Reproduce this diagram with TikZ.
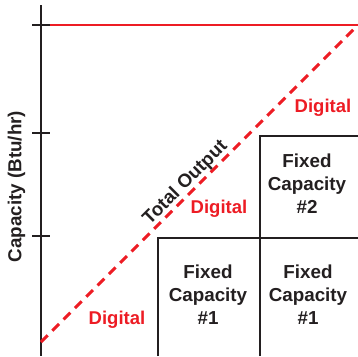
\documentclass[tikz,border=0pt]{standalone}
\usepackage{fontspec}
\setmainfont{Liberation Sans}
\definecolor{dred}{RGB}{237,28,36}
\definecolor{dblack}{HTML}{231F20}
\begin{document}
\begin{tikzpicture}[x=1pt,y=-1pt,
  axisline/.style={draw=dblack,line width=1.2pt},
  boxline/.style={draw=dblack,line width=1.3pt},
  lbl/.style={font=\fontsize{18.8}{23}\selectfont\bfseries,text=dblack,align=center,inner sep=0pt},
  dlbl/.style={font=\fontsize{18.5}{23}\selectfont\bfseries,text=dred,inner sep=0pt},
  totline/.style={draw=dred,line width=3pt,dash pattern=on 9.5pt off 6.5pt}]
\useasboundingbox (0,0) rectangle (358,356);
% axis
\coordinate (atop) at (41,5);
\coordinate (abot) at (41,356);
\draw[axisline] (atop) -- (abot);
\foreach \yy/\nm in {25/t1,133/t2,236/t3}{
  \coordinate (\nm a) at (32,\yy);
  \coordinate (\nm b) at (50,\yy);
  \draw[axisline] (\nm a) -- (\nm b);
}
% red max line
\coordinate (rl) at (50,25);
\coordinate (rr) at (358,25);
\draw[dred,line width=1.4pt] (rl) -- (rr);
% boxes
\coordinate (b1) at (158,356);
\coordinate (b2) at (158,238);
\coordinate (b3) at (358,238);
\coordinate (c1) at (260,356);
\coordinate (c2) at (260,136);
\coordinate (c3) at (358,136);
\draw[boxline] (b1) -- (b2) -- (b3);
\draw[boxline] (c1) -- (c2) -- (c3);
% total output dashed line
\coordinate (d0) at (41,342);
\coordinate (d1) at (358,25);
\draw[totline] (d0) -- (d1);
% labels
\node[lbl,rotate=90] (ylab) at (16.5,186.5) {Capacity (Btu/hr)};
\node[lbl,rotate=45] (tot) at (185.5,183) {Total Output};
\node[dlbl] (dg1) at (323,108) {Digital};
\node[dlbl] (dg2) at (219,209) {Digital};
\node[dlbl] (dg3) at (117,320) {Digital};
\node[lbl] (f2) at (307,184) {Fixed\\Capacity\\\#2};
\node[lbl] (f1a) at (208,295) {Fixed\\Capacity\\\#1};
\node[lbl] (f1b) at (308,295) {Fixed\\Capacity\\\#1};
\end{tikzpicture}
\end{document}
